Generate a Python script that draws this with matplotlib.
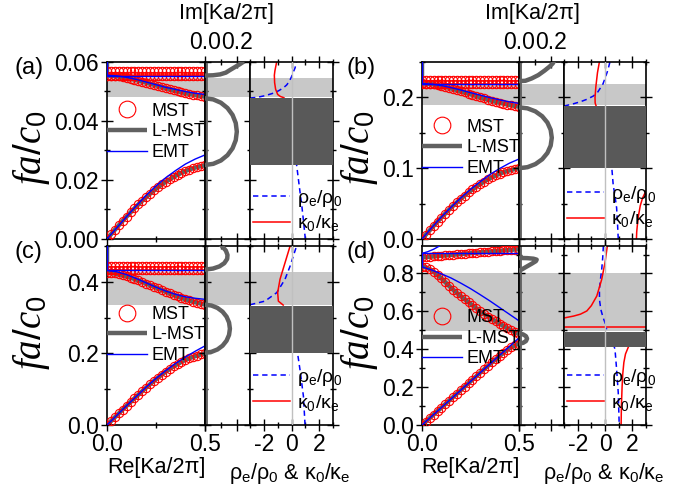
import matplotlib
matplotlib.use('Agg')
import matplotlib.pyplot as plt
from matplotlib.ticker import MultipleLocator, FormatStrFormatter

plt.rcParams['font.family'] = ['Liberation Sans', 'DejaVu Sans']
plt.rcParams['mathtext.fontset'] = 'custom'
plt.rcParams['mathtext.rm'] = 'Liberation Sans'
plt.rcParams['mathtext.it'] = 'Liberation Serif:italic'
plt.rcParams['axes.unicode_minus'] = False

# Bloch wave number grid (MST / L-MST) and EMT grid
K = [0.00, 0.02, 0.04, 0.06, 0.08, 0.10, 0.12, 0.14, 0.16, 0.18, 0.20, 0.22, 0.24,
     0.26, 0.28, 0.30, 0.32, 0.34, 0.36, 0.38, 0.40, 0.42, 0.44, 0.46, 0.48, 0.50]
KE = [0.00, 0.05, 0.10, 0.15, 0.20, 0.25, 0.30, 0.35, 0.40, 0.45, 0.50]

# ---------------- panel (a)
a_low = [0.0, 0.00155, 0.0031, 0.00463, 0.00613, 0.00758, 0.009, 0.01038, 0.0117, 0.01298,
         0.0142, 0.01535, 0.01645, 0.0175, 0.01848, 0.0194, 0.02025, 0.02105, 0.02178,
         0.02243, 0.02303, 0.02355, 0.024, 0.02438, 0.0247, 0.0250]
a_up = [0.0554, 0.05536, 0.05526, 0.05509, 0.05487, 0.05462, 0.05433, 0.05402, 0.05369,
        0.05334, 0.05299, 0.05263, 0.05226, 0.05189, 0.05151, 0.05114, 0.05077, 0.05041,
        0.05006, 0.04974, 0.04944, 0.04916, 0.0489, 0.04866, 0.04843, 0.0482]
a_flat = [0.0569, 0.0554]
a_emt_low = [0.0, 0.0038, 0.0076, 0.0113, 0.0148, 0.018, 0.0208, 0.0232, 0.0254, 0.0271, 0.0285]
a_emt_up = [0.0555, 0.0553, 0.0548, 0.0541, 0.0532, 0.0523, 0.0514, 0.0507, 0.0500, 0.0494, 0.0490]
a_k0 = [0.0554, 0.060]
a_bulge_f = [0.0477, 0.04732, 0.04619, 0.04439, 0.04205, 0.03933, 0.0364, 0.03347, 0.03075,
             0.02841, 0.02661, 0.02548, 0.0251]
a_bulge_v = [0, 0.0513, 0.099, 0.14, 0.1715, 0.1913, 0.198, 0.1913, 0.1715, 0.14, 0.099, 0.0513, 0]
a_arc_v = [0, 0.05, 0.094, 0.13, 0.156, 0.19, 0.215, 0.24]
a_arc_f = [0.0554, 0.0555, 0.0558, 0.0564, 0.0573, 0.0584, 0.0592, 0.0601]
a_rho1_x = [-3.0, -2.5, -1.9, -1.4, -0.95, -0.6, -0.35, -0.15, 0.0, 0.12, 0.25, 0.37]
a_rho1_f = [0.0478, 0.0480, 0.0486, 0.0493, 0.0502, 0.0512, 0.0522, 0.0535, 0.0550, 0.0565, 0.0579, 0.0601]
a_rho2_x = [1.0, 0.87, 0.74, 0.6, 0.49, 0.37, 0.1, -0.5]
a_rho2_f = [0.0, 0.006, 0.0115, 0.0165, 0.0206, 0.0251, 0.032, 0.040]
a_kap1_x = [-1.07, -1.2, -1.24, -1.22, -1.15, -1.0, -0.8, -0.55]
a_kap1_f = [0.0601, 0.057, 0.0555, 0.053, 0.0508, 0.049, 0.0483, 0.0479]
a_light = [0.0483, 0.0547]
a_dark = [0.0251, 0.0477]

# ---------------- panel (b)
b_low = [0.0, 0.0062, 0.0124, 0.0185, 0.0245, 0.0303, 0.036, 0.0415, 0.0468, 0.0519, 0.0568,
         0.0614, 0.0658, 0.07, 0.0739, 0.0776, 0.081, 0.0842, 0.0871, 0.0897, 0.0921, 0.0942,
         0.096, 0.0975, 0.0988, 0.1]
b_up = [0.2197, 0.2195, 0.219, 0.2183, 0.2173, 0.2161, 0.2148, 0.2134, 0.2118, 0.2103, 0.2086,
        0.207, 0.2053, 0.2036, 0.2019, 0.2002, 0.1985, 0.1968, 0.1952, 0.1938, 0.1924, 0.1911,
        0.1899, 0.1888, 0.1878, 0.1867]
b_flat = [0.2243, 0.2190]
b_emt_low = [0.0, 0.016, 0.031, 0.045, 0.058, 0.070, 0.081, 0.091, 0.0995, 0.107, 0.113]
b_emt_up = [0.2195, 0.2188, 0.2167, 0.2138, 0.2104, 0.2068, 0.2032, 0.1997, 0.1965, 0.1937, 0.1915]
b_k0 = [0.219, 0.25]
b_bulge_f = [0.186, 0.18454, 0.18024, 0.1734, 0.1645, 0.15414, 0.143, 0.13186, 0.1215, 0.1126,
             0.10576, 0.10146, 0.100]
b_bulge_v = [0, 0.0528, 0.102, 0.1442, 0.1767, 0.1971, 0.204, 0.1971, 0.1767, 0.1442, 0.102, 0.0528, 0]
b_arc_v = [0, 0.04, 0.079, 0.12, 0.16, 0.19, 0.21, 0.215]
b_arc_f = [0.223, 0.2235, 0.2268, 0.2315, 0.238, 0.2435, 0.248, 0.25]
b_rho1_x = [-3.0, -2.4, -1.82, -1.3, -0.85, -0.55, -0.36, -0.15, 0.0, 0.2, 0.36]
b_rho1_f = [0.1878, 0.1905, 0.1937, 0.1975, 0.202, 0.207, 0.2126, 0.219, 0.2267, 0.238, 0.25]
b_rho2_x = [0.97, 0.92, 0.85, 0.72, 0.6, 0.5, 0.3]
b_rho2_f = [0.0, 0.02, 0.044, 0.062, 0.0765, 0.1, 0.12]
b_kap1_x = [-0.41, -0.55, -0.67, -0.73, -0.72, -0.65]
b_kap1_f = [0.25, 0.235, 0.215, 0.2, 0.192, 0.188]
b_kap2_x = [2.3, 2.32, 2.37, 2.45, 2.58, 2.75, 3.0]
b_kap2_f = [0.0, 0.01, 0.02, 0.033, 0.047, 0.058, 0.068]
b_light = [0.1890, 0.2183]
b_dark = [0.100, 0.1877]

# ---------------- panel (c)
c_low = [0.0, 0.0108, 0.0216, 0.0322, 0.043, 0.0536, 0.064, 0.0744, 0.0846, 0.0946, 0.1044,
         0.114, 0.1232, 0.1322, 0.1408, 0.149, 0.1566, 0.1638, 0.1704, 0.1764, 0.1818, 0.1864,
         0.1904, 0.194, 0.1972, 0.2]
c_up = [0.425, 0.4246, 0.4232, 0.4212, 0.4185, 0.4154, 0.4118, 0.4079, 0.4038, 0.3995, 0.3952,
        0.3907, 0.3862, 0.3816, 0.3769, 0.3723, 0.3678, 0.3633, 0.3591, 0.355, 0.3513, 0.3478,
        0.3446, 0.3417, 0.3388, 0.336]
c_flat = [0.444, 0.432]
c_emt_low = [0.0, 0.027, 0.054, 0.080, 0.106, 0.130, 0.152, 0.172, 0.190, 0.206, 0.221]
c_emt_up = [0.432, 0.428, 0.420, 0.409, 0.397, 0.385, 0.374, 0.365, 0.358, 0.354, 0.351]
c_k0 = [0.432, 0.50]
c_bulge_f = [0.336, 0.33372, 0.32702, 0.31637, 0.3025, 0.28635, 0.269, 0.25165, 0.2355, 0.22163,
             0.21098, 0.20428, 0.202]
c_bulge_v = [0, 0.0401, 0.0775, 0.1096, 0.1342, 0.1497, 0.155, 0.1497, 0.1342, 0.1096, 0.0775, 0.0401, 0]
c_arc_v = [0, 0.05, 0.09, 0.12, 0.138, 0.14, 0.13, 0.105]
c_arc_f = [0.434, 0.437, 0.443, 0.452, 0.464, 0.475, 0.487, 0.50]
c_rho1_x = [-3.0, -2.88, -1.92, -1.07, -0.47, -0.1, 0.25, 0.37]
c_rho1_f = [0.3365, 0.337, 0.346, 0.3696, 0.407, 0.444, 0.486, 0.50]
c_rho2_x = [0.98, 0.86, 0.61, 0.45, 0.2]
c_rho2_f = [0.0, 0.081, 0.1555, 0.1975, 0.23]
c_kap1_x = [-0.1, -0.47, -0.83, -1.0, -0.95, -0.6]
c_kap1_f = [0.50, 0.453, 0.407, 0.37, 0.346, 0.335]
c_light = [0.335, 0.427]
c_dark = [0.202, 0.333]

# ---------------- panel (d)
d_low = [0.0, 0.0184, 0.0368, 0.0552, 0.0736, 0.092, 0.1104, 0.1288, 0.1472, 0.1656, 0.184,
         0.2024, 0.2208, 0.2392, 0.2576, 0.276, 0.2942, 0.3122, 0.33, 0.3475, 0.3646, 0.3812,
         0.397, 0.41, 0.421, 0.43]
d_up = [0.835, 0.832, 0.823, 0.809, 0.792, 0.774, 0.754, 0.734, 0.715, 0.697, 0.68, 0.664,
        0.648, 0.632, 0.616, 0.6, 0.586, 0.572, 0.559, 0.547, 0.535, 0.523, 0.511, 0.499,
        0.489, 0.48]
d_top = [0.885, 0.8865, 0.888, 0.8897, 0.8914, 0.8932, 0.895, 0.8968, 0.8986, 0.9004, 0.9022,
         0.904, 0.9058, 0.9076, 0.9094, 0.9111, 0.9128, 0.9145, 0.9162, 0.9179, 0.9196, 0.9213,
         0.923, 0.9247, 0.9264, 0.928]
d_emt_low = [0.0, 0.046, 0.092, 0.138, 0.184, 0.23, 0.276, 0.322, 0.368, 0.414, 0.46]
d_emt_up = [0.835, 0.818, 0.798, 0.776, 0.749, 0.72, 0.688, 0.655, 0.62, 0.585, 0.55]
d_emt_flat = [0.906, 0.906]
d_emt_top_k = [0.0, 0.03, 0.06, 0.09]
d_emt_top_f = [0.906, 0.915, 0.928, 0.945]
d_k0_blue = [0.835, 0.906]
d_k0_gray = [0.835, 0.885]
d_bulge_f = [0.482, 0.4785, 0.469, 0.456, 0.443, 0.4335, 0.43]
d_bulge_v = [0, 0.025, 0.0433, 0.05, 0.0433, 0.025, 0]
d_arc_v = [0, 0.05, 0.09, 0.11, 0.105, 0.08, 0.045, 0.015, 0]
d_arc_f = [0.882, 0.881, 0.878, 0.873, 0.865, 0.852, 0.835, 0.82, 0.815]
d_rho1_x = [-0.12, -0.17, -0.24, -0.33, -0.41, -0.40, -0.31, -0.15, 0.0, 0.12]
d_rho1_f = [0.945, 0.88, 0.822, 0.77, 0.716, 0.66, 0.611, 0.57, 0.54, 0.505]
d_rho2_x = [0.6, 0.73, 0.85, 0.97, 1.04]
d_rho2_f = [0.43, 0.40, 0.294, 0.17, 0.0]
d_kap1_x = [0.17, 0.0, -0.24, -0.6, -1.0, -1.33, -1.8, -2.3, -3.0]
d_kap1_f = [0.945, 0.857, 0.769, 0.681, 0.63, 0.602, 0.585, 0.575, 0.565]
d_kap2_x = [-3.0, 3.0]
d_kap2_f = [0.517, 0.517]
d_kap3_x = [1.18, 1.2, 1.25, 1.3, 1.38, 1.5, 1.7]
d_kap3_f = [0.0, 0.1, 0.2, 0.27, 0.33, 0.375, 0.41]
d_light = [0.496, 0.80]
d_dark = [0.412, 0.493]

W, H = 679, 493
GRAY = '#616161'
LIGHT = '#c8c8c8'
DARK = '#595959'


def const(v, n):
    return [v] * n


panels = [
    dict(tag='(a)', col=0, row=0, ylim=(0, 0.06), major=0.02, minor=0.01, fmt='%.2f',
         gray=[(K, a_low), (K, a_up), ([0, 0], a_k0)],
         mst=[(K, a_low), (K, a_up)] + [(K, const(f, len(K))) for f in a_flat],
         blue=[(KE, a_emt_low), (KE, a_emt_up), ([0, 0], a_k0), ([0, 0.5], const(a_flat[1], 2))],
         im=[(a_bulge_v, a_bulge_f), (a_arc_v, a_arc_f)],
         rho=[(a_rho1_x, a_rho1_f), (a_rho2_x, a_rho2_f)],
         kap=[(a_kap1_x, a_kap1_f)],
         light=a_light, dark=a_dark, leg1=0.605, leg2=0.161),
    dict(tag='(b)', col=1, row=0, ylim=(0, 0.25), major=0.1, minor=0.05, fmt='%.1f',
         gray=[(K, b_low), (K, b_up), ([0, 0], b_k0)],
         mst=[(K, b_low), (K, b_up)] + [(K, const(f, len(K))) for f in b_flat],
         blue=[(KE, b_emt_low), (KE, b_emt_up), ([0, 0], b_k0), ([0, 0.5], const(b_flat[1], 2))],
         im=[(b_bulge_v, b_bulge_f), (b_arc_v, b_arc_f)],
         rho=[(b_rho1_x, b_rho1_f), (b_rho2_x, b_rho2_f)],
         kap=[(b_kap1_x, b_kap1_f), (b_kap2_x, b_kap2_f)],
         light=b_light, dark=b_dark, leg1=0.515, leg2=0.184),
    dict(tag='(c)', col=0, row=1, ylim=(0, 0.5), major=0.2, minor=0.1, fmt='%.1f',
         gray=[(K, c_low), (K, c_up), ([0, 0], c_k0)],
         mst=[(K, c_low), (K, c_up)] + [(K, const(f, len(K))) for f in c_flat],
         blue=[(KE, c_emt_low), (KE, c_emt_up), ([0, 0], c_k0), ([0, 0.5], const(c_flat[1], 2))],
         im=[(c_bulge_v, c_bulge_f), (c_arc_v, c_arc_f)],
         rho=[(c_rho1_x, c_rho1_f), (c_rho2_x, c_rho2_f)],
         kap=[(c_kap1_x, c_kap1_f)],
         light=c_light, dark=c_dark, leg1=0.503, leg2=0.196),
    dict(tag='(d)', col=1, row=1, ylim=(0, 0.945), major=0.2, minor=0.1, fmt='%.1f',
         gray=[(K, d_low), (K, d_up), (K, d_top), ([0, 0], d_k0_gray)],
         mst=[(K, d_low), (K, d_up), (K, d_top)],
         blue=[(KE, d_emt_low), (KE, d_emt_up), ([0, 0], d_k0_blue), ([0, 0.5], d_emt_flat),
               (d_emt_top_k, d_emt_top_f)],
         im=[(d_bulge_v, d_bulge_f), (d_arc_v, d_arc_f)],
         rho=[(d_rho1_x, d_rho1_f), (d_rho2_x, d_rho2_f)],
         kap=[(d_kap1_x, d_kap1_f), (d_kap2_x, d_kap2_f), (d_kap3_x, d_kap3_f)],
         light=d_light, dark=d_dark, leg1=0.484, leg2=0.196),
]

# pixel layout: (Re left, Im left, rho left, rho right), tag x, ylabel x
COLS = [(107, 205, 250, 333), (422, 519, 564, 646)]
TAG_X = [15, 347]
YLAB_X = [31, 359]
ROWS = [(62, 239), (246, 425)]

fig = plt.figure(figsize=(W / 100, H / 100), dpi=100)


def rect(x0, x1, y0, y1):
    return [x0 / W, 1 - y1 / H, (x1 - x0) / W, (y1 - y0) / H]


for p in panels:
    xr, xi, xp, xe = COLS[p['col']]
    yt, yb = ROWS[p['row']]
    top = p['row'] == 0
    ax_re = fig.add_axes(rect(xr, xi, yt, yb))
    ax_im = fig.add_axes(rect(xi, xp, yt, yb))
    ax_rh = fig.add_axes(rect(xp, xe, yt, yb))
    for ax in (ax_re, ax_im, ax_rh):
        ax.set_ylim(*p['ylim'])
        ax.yaxis.set_major_locator(MultipleLocator(p['major']))
        ax.yaxis.set_minor_locator(MultipleLocator(p['minor']))
        ax.axhspan(*p['light'], color=LIGHT, lw=0, zorder=0.5)
        for s in ax.spines.values():
            s.set_linewidth(1.2)
        ax.tick_params(which='major', length=8, width=1, labelsize=16.5, pad=2)
        ax.tick_params(which='minor', length=5, width=1)

    # Re[K] axes
    ax_re.set_xlim(0, 0.5)
    ax_re.set_xticks([0, 0.5])
    ax_re.xaxis.set_minor_locator(MultipleLocator(0.25))
    ax_re.xaxis.set_major_formatter(FormatStrFormatter('%.1f'))
    ax_re.yaxis.set_major_formatter(FormatStrFormatter(p['fmt']))
    ax_re.tick_params(axis='y', which='both', direction='inout', left=True, right=False)
    ax_re.tick_params(axis='x', which='both', direction='inout', top=False,
                      labelbottom=not top)
    for kk, ff in p['gray']:
        h_g, = ax_re.plot(kk, ff, color=GRAY, lw=3.2, solid_capstyle='butt', zorder=2)
    for kk, ff in p['mst']:
        h_m, = ax_re.plot(kk, ff, 'o', ms=6, mfc='none', mec='red', mew=0.8, zorder=3)
    for kk, ff in p['blue']:
        h_b, = ax_re.plot(kk, ff, color='blue', lw=1.0, zorder=4)
    ax_re.legend([h_m, h_g, h_b], ['MST', 'L-MST', 'EMT'], loc='center left',
                 bbox_to_anchor=(0.0, p['leg1']), frameon=False, fontsize=13,
                 borderpad=0, borderaxespad=0, handlelength=2.2, handletextpad=0.25,
                 labelspacing=0.2, markerscale=2.0)

    # Im[K] axes
    ax_im.set_xlim(0, 0.28)
    ax_im.set_xticks([0, 0.2])
    ax_im.xaxis.set_minor_locator(MultipleLocator(0.1))
    ax_im.xaxis.set_major_formatter(FormatStrFormatter('%.1f'))
    ax_im.tick_params(axis='y', which='both', direction='inout', left=True, right=False,
                      labelleft=False)
    ax_im.tick_params(axis='x', which='both', direction='inout', top=True, bottom=True,
                      labeltop=top, labelbottom=False)
    ax_im.axvline(0, color=GRAY, lw=3.5, zorder=2)
    for vv, ff in p['im']:
        ax_im.plot(vv, ff, color=GRAY, lw=3.2, zorder=3)

    # effective parameter axes
    ax_rh.set_xlim(-3, 3)
    ax_rh.xaxis.set_major_locator(MultipleLocator(2))
    ax_rh.xaxis.set_minor_locator(MultipleLocator(1))
    ax_rh.xaxis.set_major_formatter(FormatStrFormatter('%d'))
    ax_rh.tick_params(axis='y', which='both', direction='inout', left=True, right=True,
                      labelleft=False)
    ax_rh.tick_params(axis='x', which='both', direction='inout', top=True, bottom=True,
                      labelbottom=not top)
    ax_rh.axhspan(*p['dark'], color=DARK, lw=0, zorder=3)
    ax_rh.axvline(0, color='#c0c0c0', lw=1.0, zorder=3.5)
    for xx, ff in p['rho']:
        h_r, = ax_rh.plot(xx, ff, color='blue', lw=1.1, dashes=(3.5, 2.5), zorder=2)
    for xx, ff in p['kap']:
        h_k, = ax_rh.plot(xx, ff, color='red', lw=1.1, zorder=2)
    ax_rh.legend([h_r, h_k], [r'$\mathrm{\rho_e/\rho_0}$', r'$\mathrm{\kappa_0/\kappa_e}$'],
                 loc='center left', bbox_to_anchor=(0.036, p['leg2']), frameon=False,
                 fontsize=14, borderpad=0, borderaxespad=0, handlelength=1.9,
                 handletextpad=0.35, labelspacing=0.25)

    # texts
    fig.text(TAG_X[p['col']] / W, 1 - (yt + 6) / H, p['tag'], fontsize=17, ha='left', va='center')
    fig.text(YLAB_X[p['col']] / W, 1 - ((yt + yb) / 2 - 3) / H, r'$\mathit{fa/c_0}$', fontsize=28,
             rotation=90, ha='center', va='center')
    if top:
        fig.text((xi + 21 - 8 * p['col']) / W, 1 - 14 / H, 'Im[Ka/2π]', fontsize=15.5,
                 ha='center', va='center')
    else:
        fig.text((xr + xi) / 2 / W, 1 - 468 / H, 'Re[Ka/2π]', fontsize=15.5, ha='center', va='center')
        fig.text((xp + 40) / W, 1 - 473 / H,
                 r'$\mathrm{\rho_e/\rho_0}$ & $\mathrm{\kappa_0/\kappa_e}$',
                 fontsize=15.5, ha='center', va='center')

fig.savefig('out.png', dpi=100)
